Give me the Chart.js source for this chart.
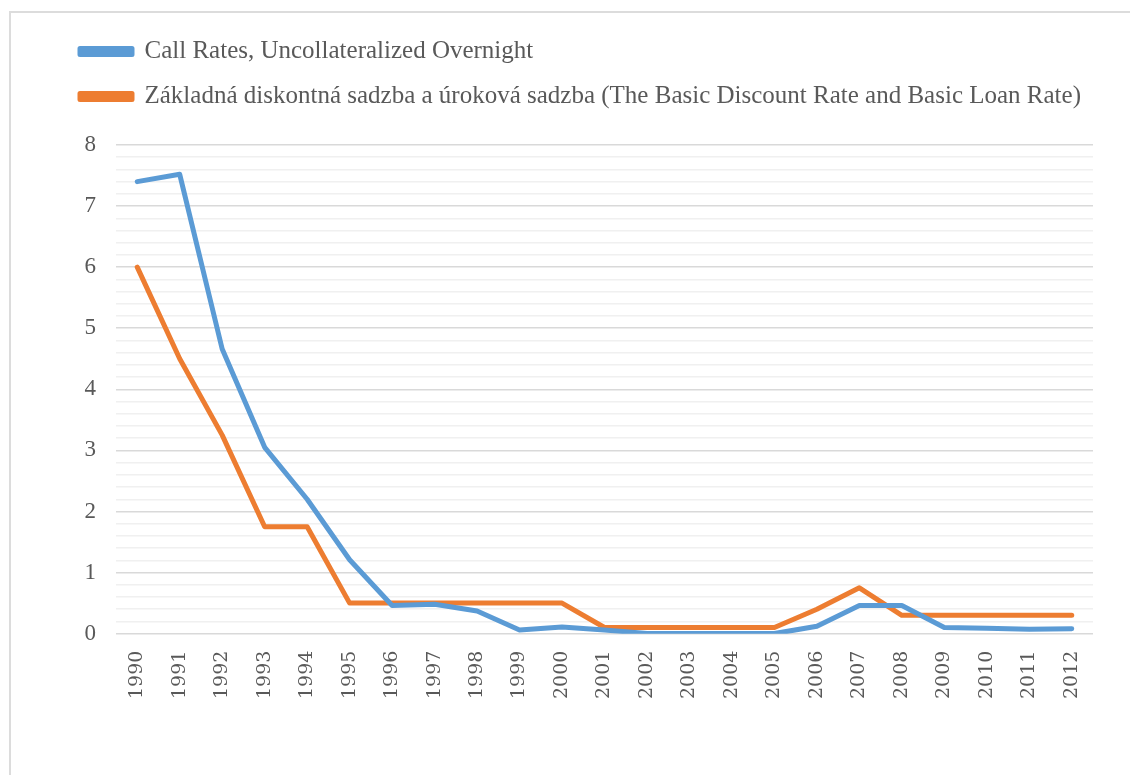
<!DOCTYPE html>
<html>
<head>
<meta charset="utf-8">
<script src="https://cdn.jsdelivr.net/npm/chart.js@4"></script>
<style>
  body { margin: 0; background: #fff; }
  #frame { position: absolute; left: 9px; top: 11px; width: 2000px; height: 2000px; border: 2px solid #dcdcdc; }
  #wrap { position: absolute; left: 0; top: 0; width: 1130px; height: 775px; }
</style>
</head>
<body>
<div id="frame"></div>
<div id="wrap"><canvas id="rateChart"></canvas></div>
<script>
const years = ["1990", "1991", "1992", "1993", "1994", "1995", "1996", "1997", "1998", "1999", "2000",
  "2001", "2002", "2003", "2004", "2005", "2006", "2007", "2008", "2009", "2010", "2011", "2012"];

// uncollateralized overnight call rate
const callRates = [7.4, 7.52, 4.66, 3.05, 2.2, 1.21, 0.46, 0.48, 0.37, 0.06, 0.11,
  0.06, 0.002, 0.001, 0.001, 0.001, 0.12, 0.46, 0.46, 0.1, 0.09, 0.07, 0.08];

// basic discount rate and basic loan rate
const discountRates = [6.0, 4.5, 3.25, 1.75, 1.75, 0.5, 0.5, 0.5, 0.5, 0.5, 0.5,
  0.1, 0.1, 0.1, 0.1, 0.1, 0.4, 0.75, 0.3, 0.3, 0.3, 0.3, 0.3];

const seriesNames = ["Call Rates, Uncollateralized Overnight",
  "Základná diskontná sadzba a úroková sadzba (The Basic Discount Rate and Basic Loan Rate)"];

const yMin = 0, yMax = 8, yStep = 0.2;

const isMajor = v => Math.abs(v - Math.round(v)) < 1e-6;

// push the plot area down a bit below the legend
const legendSpacer = {
    id: "legendSpacer",
    beforeInit(chart) {
        const fit = chart.legend.fit;
        chart.legend.fit = function () {
            fit.bind(chart.legend)();
            this.height += 26;
        };
    }
};

document.addEventListener("DOMContentLoaded", () => {
    new Chart(document.getElementById("rateChart"), {
        type: "line",
        data: {
            labels: years,
            datasets: [{
                label: seriesNames[0],
                data: callRates,
                borderColor: "#5B9BD5",
                backgroundColor: "#5B9BD5",
                borderWidth: 5
            }, {
                label: seriesNames[1],
                data: discountRates,
                borderColor: "#ED7D31",
                backgroundColor: "#ED7D31",
                borderWidth: 5
            }]
        },
        plugins: [legendSpacer],
        options: {
            responsive: true,
            maintainAspectRatio: false,
            animation: false,
            layout: { padding: { left: 60, right: 37, top: 19, bottom: 59 } },
            elements: {
                point: { radius: 0 },
                line: { tension: 0, borderCapStyle: "round", borderJoinStyle: "round" }
            },
            plugins: {
                legend: {
                    position: "top",
                    align: "start",
                    labels: {
                        boxWidth: 52,
                        boxHeight: 6,
                        padding: 20,
                        color: "#595959",
                        font: { family: "'Liberation Serif', serif", size: 25 }
                    }
                },
                tooltip: { enabled: false }
            },
            scales: {
                x: {
                    offset: true,
                    grid: { display: false, drawTicks: false },
                    border: { display: false },
                    ticks: {
                        minRotation: 90,
                        maxRotation: 90,
                        padding: 17,
                        color: "#595959",
                        font: { family: "'DejaVu Serif', serif", size: 19 }
                    }
                },
                y: {
                    min: yMin,
                    max: yMax,
                    afterFit: scale => { scale.width = 56; },
                    border: { display: false },
                    grid: {
                        drawTicks: false,
                        color: ctx => isMajor(ctx.tick.value) ? "#d9d9d9" : "#f0f0f0",
                        lineWidth: 1.5
                    },
                    ticks: {
                        stepSize: yStep,
                        autoSkip: false,
                        padding: 20,
                        color: "#595959",
                        font: { family: "'Liberation Serif', serif", size: 23 },
                        callback: v => isMajor(v) ? String(Math.round(v)) : ""
                    }
                }
            }
        }
    });
});
</script>
</body>
</html>
